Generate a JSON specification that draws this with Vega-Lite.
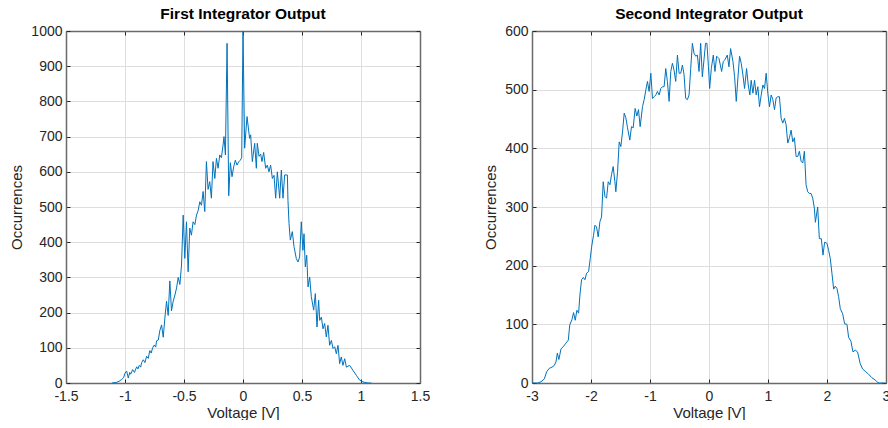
{
  "$schema": "https://vega.github.io/schema/vega-lite/v6.json",
  "background": "white",
  "padding": {"left": 9, "top": 6, "right": 0, "bottom": 0},
  "config": {
    "font": "Liberation Sans",
    "view": {"stroke": null},
    "axis": {
      "labelFont": "Liberation Sans", "labelFontSize": 14, "labelColor": "#262626",
      "titleFont": "Liberation Sans", "titleFontSize": 15, "titleFontWeight": "normal", "titleColor": "#262626",
      "domainColor": "#6a6a6a", "domainWidth": 1.5,
      "tickColor": "#262626", "tickSize": -4,
      "gridColor": "#dedede", "gridWidth": 1,
      "labelFlush": false, "labelOverlap": false
    },
    "axisX": {"labelPadding": 10, "titlePadding": 2},
    "axisY": {"labelPadding": 8, "titlePadding": 6},
    "title": {"font": "Liberation Sans", "fontSize": 15.5, "fontWeight": "bold", "color": "#000000", "offset": 2},
    "concat": {"spacing": 53}
  },
  "datasets": {
    "first": [
      {"v":-1.11,"c":0},{"v":-1.07,"c":2},{"v":-1.05,"c":5},{"v":-1.028,"c":10},{"v":-1.012,"c":15},{"v":-1.0,"c":28},{"v":-0.986,"c":34},{"v":-0.972,"c":14},{"v":-0.96,"c":30},{"v":-0.952,"c":25},{"v":-0.935,"c":38},{"v":-0.92,"c":30},{"v":-0.901,"c":46},{"v":-0.89,"c":40},{"v":-0.879,"c":50},{"v":-0.867,"c":45},{"v":-0.859,"c":58},{"v":-0.845,"c":66},{"v":-0.831,"c":58},{"v":-0.817,"c":76},{"v":-0.803,"c":70},{"v":-0.79,"c":92},{"v":-0.778,"c":85},{"v":-0.766,"c":100},{"v":-0.752,"c":108},{"v":-0.74,"c":102},{"v":-0.732,"c":120},{"v":-0.718,"c":122},{"v":-0.704,"c":150},{"v":-0.69,"c":165},{"v":-0.676,"c":130},{"v":-0.662,"c":185},{"v":-0.648,"c":232},{"v":-0.634,"c":192},{"v":-0.62,"c":290},{"v":-0.606,"c":205},{"v":-0.592,"c":232},{"v":-0.577,"c":250},{"v":-0.563,"c":270},{"v":-0.549,"c":300},{"v":-0.535,"c":280},{"v":-0.521,"c":335},{"v":-0.507,"c":477},{"v":-0.493,"c":354},{"v":-0.479,"c":458},{"v":-0.465,"c":316},{"v":-0.451,"c":440},{"v":-0.437,"c":420},{"v":-0.423,"c":458},{"v":-0.408,"c":450},{"v":-0.394,"c":477},{"v":-0.38,"c":490},{"v":-0.366,"c":515},{"v":-0.352,"c":505},{"v":-0.338,"c":544},{"v":-0.324,"c":487},{"v":-0.31,"c":629},{"v":-0.296,"c":550},{"v":-0.282,"c":572},{"v":-0.268,"c":525},{"v":-0.254,"c":629},{"v":-0.239,"c":581},{"v":-0.225,"c":638},{"v":-0.211,"c":610},{"v":-0.197,"c":648},{"v":-0.183,"c":640},{"v":-0.169,"c":676},{"v":-0.161,"c":700},{"v":-0.149,"c":648},{"v":-0.135,"c":965},{"v":-0.121,"c":532},{"v":-0.107,"c":626},{"v":-0.093,"c":586},{"v":-0.079,"c":614},{"v":-0.065,"c":633},{"v":-0.051,"c":619},{"v":-0.037,"c":628},{"v":-0.023,"c":633},{"v":-0.011,"c":640},{"v":0.0,"c":1000},{"v":0.014,"c":667},{"v":0.034,"c":757},{"v":0.056,"c":695},{"v":0.065,"c":705},{"v":0.079,"c":629},{"v":0.099,"c":681},{"v":0.113,"c":610},{"v":0.121,"c":681},{"v":0.136,"c":644},{"v":0.15,"c":650},{"v":0.161,"c":629},{"v":0.175,"c":655},{"v":0.192,"c":610},{"v":0.206,"c":619},{"v":0.22,"c":600},{"v":0.234,"c":619},{"v":0.249,"c":581},{"v":0.263,"c":590},{"v":0.277,"c":525},{"v":0.291,"c":600},{"v":0.311,"c":525},{"v":0.325,"c":605},{"v":0.339,"c":525},{"v":0.353,"c":591},{"v":0.376,"c":591},{"v":0.381,"c":519},{"v":0.39,"c":453},{"v":0.401,"c":406},{"v":0.418,"c":430},{"v":0.432,"c":388},{"v":0.452,"c":353},{"v":0.466,"c":344},{"v":0.48,"c":358},{"v":0.494,"c":458},{"v":0.508,"c":377},{"v":0.517,"c":424},{"v":0.528,"c":330},{"v":0.54,"c":363},{"v":0.551,"c":273},{"v":0.565,"c":301},{"v":0.579,"c":245},{"v":0.599,"c":207},{"v":0.613,"c":254},{"v":0.627,"c":159},{"v":0.641,"c":235},{"v":0.65,"c":178},{"v":0.664,"c":187},{"v":0.678,"c":154},{"v":0.692,"c":169},{"v":0.706,"c":131},{"v":0.72,"c":164},{"v":0.734,"c":107},{"v":0.749,"c":121},{"v":0.763,"c":98},{"v":0.777,"c":103},{"v":0.791,"c":83},{"v":0.805,"c":107},{"v":0.819,"c":55},{"v":0.833,"c":74},{"v":0.847,"c":50},{"v":0.862,"c":69},{"v":0.876,"c":45},{"v":0.904,"c":50},{"v":0.932,"c":36},{"v":0.96,"c":22},{"v":0.989,"c":8},{"v":1.017,"c":3},{"v":1.059,"c":0},{"v":1.088,"c":0}
    ],
    "second": [
      {"v":-3.0,"c":0},{"v":-2.904,"c":0},{"v":-2.848,"c":2},{"v":-2.791,"c":7},{"v":-2.752,"c":19},{"v":-2.707,"c":25},{"v":-2.662,"c":27},{"v":-2.622,"c":30},{"v":-2.594,"c":36},{"v":-2.57,"c":51},{"v":-2.545,"c":40},{"v":-2.509,"c":58},{"v":-2.47,"c":62},{"v":-2.425,"c":68},{"v":-2.385,"c":73},{"v":-2.36,"c":99},{"v":-2.323,"c":108},{"v":-2.295,"c":120},{"v":-2.267,"c":107},{"v":-2.239,"c":124},{"v":-2.21,"c":119},{"v":-2.188,"c":150},{"v":-2.16,"c":176},{"v":-2.131,"c":180},{"v":-2.103,"c":176},{"v":-2.075,"c":187},{"v":-2.041,"c":190},{"v":-2.013,"c":212},{"v":-1.985,"c":235},{"v":-1.957,"c":252},{"v":-1.934,"c":269},{"v":-1.906,"c":266},{"v":-1.878,"c":249},{"v":-1.849,"c":275},{"v":-1.821,"c":283},{"v":-1.793,"c":343},{"v":-1.764,"c":318},{"v":-1.736,"c":315},{"v":-1.708,"c":343},{"v":-1.679,"c":338},{"v":-1.652,"c":355},{"v":-1.624,"c":369},{"v":-1.595,"c":343},{"v":-1.579,"c":326},{"v":-1.55,"c":360},{"v":-1.522,"c":411},{"v":-1.494,"c":403},{"v":-1.466,"c":428},{"v":-1.437,"c":460},{"v":-1.409,"c":452},{"v":-1.381,"c":435},{"v":-1.342,"c":414},{"v":-1.314,"c":437},{"v":-1.285,"c":435},{"v":-1.252,"c":468},{"v":-1.223,"c":455},{"v":-1.195,"c":466},{"v":-1.167,"c":437},{"v":-1.127,"c":471},{"v":-1.099,"c":483},{"v":-1.071,"c":499},{"v":-1.043,"c":514},{"v":-1.015,"c":497},{"v":-0.986,"c":528},{"v":-0.958,"c":485},{"v":-0.93,"c":488},{"v":-0.902,"c":491},{"v":-0.874,"c":497},{"v":-0.845,"c":491},{"v":-0.817,"c":502},{"v":-0.789,"c":505},{"v":-0.761,"c":505},{"v":-0.733,"c":536},{"v":-0.705,"c":514},{"v":-0.676,"c":480},{"v":-0.648,"c":531},{"v":-0.62,"c":545},{"v":-0.592,"c":533},{"v":-0.564,"c":514},{"v":-0.535,"c":559},{"v":-0.507,"c":528},{"v":-0.479,"c":528},{"v":-0.451,"c":542},{"v":-0.423,"c":526},{"v":-0.395,"c":485},{"v":-0.366,"c":483},{"v":-0.338,"c":491},{"v":-0.31,"c":536},{"v":-0.282,"c":579},{"v":-0.254,"c":562},{"v":-0.225,"c":557},{"v":-0.197,"c":559},{"v":-0.169,"c":531},{"v":-0.141,"c":579},{"v":-0.113,"c":522},{"v":-0.085,"c":551},{"v":-0.059,"c":579},{"v":-0.035,"c":579},{"v":-0.01,"c":540},{"v":0.011,"c":502},{"v":0.039,"c":536},{"v":0.073,"c":559},{"v":0.101,"c":531},{"v":0.13,"c":557},{"v":0.169,"c":553},{"v":0.214,"c":531},{"v":0.242,"c":548},{"v":0.27,"c":551},{"v":0.31,"c":559},{"v":0.338,"c":539},{"v":0.366,"c":570},{"v":0.406,"c":548},{"v":0.434,"c":522},{"v":0.462,"c":480},{"v":0.49,"c":520},{"v":0.518,"c":557},{"v":0.546,"c":545},{"v":0.575,"c":525},{"v":0.603,"c":502},{"v":0.637,"c":536},{"v":0.665,"c":508},{"v":0.693,"c":491},{"v":0.715,"c":516},{"v":0.744,"c":494},{"v":0.772,"c":516},{"v":0.8,"c":491},{"v":0.828,"c":505},{"v":0.856,"c":471},{"v":0.885,"c":491},{"v":0.913,"c":508},{"v":0.941,"c":502},{"v":0.969,"c":528},{"v":0.997,"c":494},{"v":1.025,"c":471},{"v":1.054,"c":491},{"v":1.082,"c":483},{"v":1.11,"c":466},{"v":1.138,"c":486},{"v":1.166,"c":488},{"v":1.194,"c":488},{"v":1.223,"c":451},{"v":1.251,"c":443},{"v":1.279,"c":451},{"v":1.307,"c":440},{"v":1.335,"c":409},{"v":1.363,"c":418},{"v":1.392,"c":431},{"v":1.42,"c":411},{"v":1.448,"c":418},{"v":1.476,"c":386},{"v":1.504,"c":386},{"v":1.532,"c":395},{"v":1.561,"c":378},{"v":1.589,"c":375},{"v":1.617,"c":395},{"v":1.645,"c":338},{"v":1.673,"c":326},{"v":1.701,"c":323},{"v":1.73,"c":323},{"v":1.758,"c":315},{"v":1.786,"c":298},{"v":1.803,"c":274},{"v":1.842,"c":300},{"v":1.87,"c":246},{"v":1.904,"c":246},{"v":1.932,"c":218},{"v":1.96,"c":240},{"v":2.0,"c":238},{"v":2.028,"c":226},{"v":2.056,"c":212},{"v":2.085,"c":186},{"v":2.113,"c":160},{"v":2.141,"c":165},{"v":2.169,"c":161},{"v":2.197,"c":147},{"v":2.225,"c":127},{"v":2.265,"c":118},{"v":2.299,"c":101},{"v":2.338,"c":100},{"v":2.366,"c":78},{"v":2.406,"c":71},{"v":2.44,"c":53},{"v":2.479,"c":56},{"v":2.518,"c":53},{"v":2.563,"c":33},{"v":2.603,"c":24},{"v":2.648,"c":20},{"v":2.704,"c":15},{"v":2.761,"c":9},{"v":2.817,"c":5},{"v":2.86,"c":1},{"v":2.89,"c":0},{"v":2.99,"c":0}
    ]
  },
  "hconcat": [
    {
      "width": 354, "height": 352,
      "title": {"text": "First Integrator Output"},
      "data": {"name": "first"},
      "layer": [
        {
          "mark": {"type": "line", "color": "#0072BD", "strokeWidth": 1},
          "encoding": {
            "x": {"field": "v", "type": "quantitative", "scale": {"domain": [-1.5, 1.5], "nice": false, "zero": false},
                  "axis": {"values": [-1.5, -1, -0.5, 0, 0.5, 1, 1.5], "title": "Voltage [V]", "labelExpr": "toString(datum.value)", "grid": true}},
            "y": {"field": "c", "type": "quantitative", "scale": {"domain": [0, 1000], "nice": false},
                  "axis": {"values": [0, 100, 200, 300, 400, 500, 600, 700, 800, 900, 1000], "title": "Occurrences", "labelExpr": "toString(datum.value)", "grid": true}}
          }
        },
        {
          "mark": {"type": "line", "strokeOpacity": 0},
          "encoding": {
            "x": {"field": "v", "type": "quantitative", "axis": {"orient": "top", "values": [-1.5, -1, -0.5, 0, 0.5, 1, 1.5], "labels": false, "title": null, "grid": false}},
            "y": {"field": "c", "type": "quantitative", "axis": {"orient": "right", "values": [0, 100, 200, 300, 400, 500, 600, 700, 800, 900, 1000], "labels": false, "title": null, "grid": false}}
          }
        }
      ],
      "resolve": {"axis": {"x": "independent", "y": "independent"}}
    },
    {
      "width": 354, "height": 352,
      "title": {"text": "Second Integrator Output"},
      "data": {"name": "second"},
      "layer": [
        {
          "mark": {"type": "line", "color": "#0072BD", "strokeWidth": 1},
          "encoding": {
            "x": {"field": "v", "type": "quantitative", "scale": {"domain": [-3, 3], "nice": false, "zero": false},
                  "axis": {"values": [-3, -2, -1, 0, 1, 2, 3], "title": "Voltage [V]", "labelExpr": "toString(datum.value)", "grid": true}},
            "y": {"field": "c", "type": "quantitative", "scale": {"domain": [0, 600], "nice": false},
                  "axis": {"values": [0, 100, 200, 300, 400, 500, 600], "title": "Occurrences", "labelExpr": "toString(datum.value)", "grid": true}}
          }
        },
        {
          "mark": {"type": "line", "strokeOpacity": 0},
          "encoding": {
            "x": {"field": "v", "type": "quantitative", "axis": {"orient": "top", "values": [-3, -2, -1, 0, 1, 2, 3], "labels": false, "title": null, "grid": false}},
            "y": {"field": "c", "type": "quantitative", "axis": {"orient": "right", "values": [0, 100, 200, 300, 400, 500, 600], "labels": false, "title": null, "grid": false}}
          }
        }
      ],
      "resolve": {"axis": {"x": "independent", "y": "independent"}}
    }
  ]
}
